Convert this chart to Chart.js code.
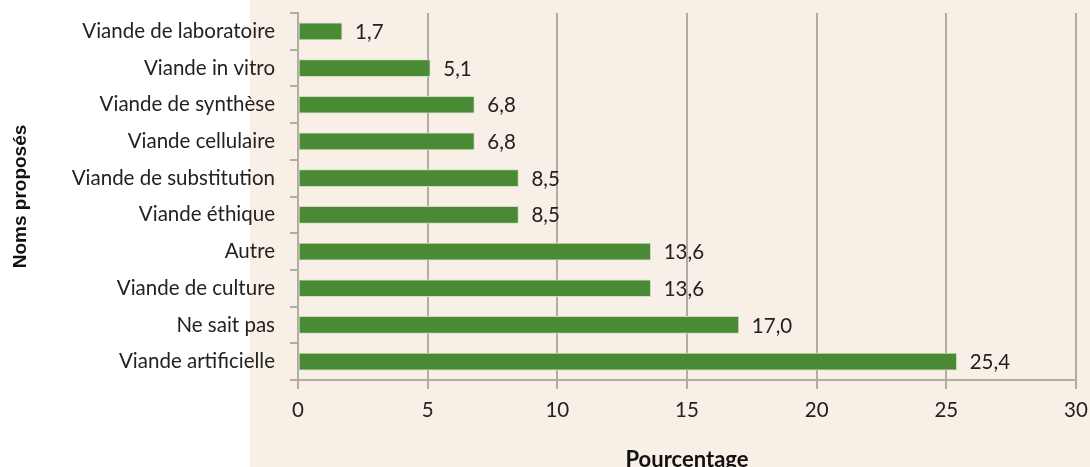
<!DOCTYPE html>
<html>
<head>
<meta charset="utf-8">
<script src="https://cdn.jsdelivr.net/npm/chart.js@4"></script>
<style>
  html, body { margin: 0; padding: 0; background: #fff; }
  #wrap { width: 1090px; height: 467px; }
</style>
</head>
<body>
<div id="wrap"><canvas id="chart" width="1090" height="467"></canvas></div>
<script>
const labels = ['Viande de laboratoire', 'Viande in vitro', 'Viande de synthèse', 'Viande cellulaire',
  'Viande de substitution', 'Viande éthique', 'Autre', 'Viande de culture', 'Ne sait pas', 'Viande artificielle'];
const values = [1.7, 5.1, 6.8, 6.8, 8.5, 8.5, 13.6, 13.6, 17.0, 25.4];
const xTicks = [0, 5, 10, 15, 20, 25, 30];

const FONT = 'Lato, "Open Sans", sans-serif';
const GRID = '#b3aca3';

// beige panel behind the plot, starts left of the axis
const panelBg = {
  id: 'panelBg',
  beforeDraw(chart) {
    const c = chart.ctx;
    c.save();
    c.fillStyle = '#f8f0e7';
    c.fillRect(250, 0, chart.width - 250, chart.height);
    c.restore();
  }
};

// values printed right of each bar, French decimal comma
const valueLabels = {
  id: 'valueLabels',
  afterDatasetsDraw(chart) {
    const c = chart.ctx;
    const meta = chart.getDatasetMeta(0);
    c.save();
    c.font = '20.5px ' + FONT;
    c.fillStyle = '#222';
    c.textBaseline = 'middle';
    meta.data.forEach((bar, i) => {
      c.fillText(values[i].toFixed(1).replace('.', ','), bar.x + 13, bar.y + 1);
    });
    c.restore();
  }
};

new Chart(document.getElementById('chart'), {
  type: 'bar',
  data: {
    labels: labels,
    datasets: [{
      data: values,
      backgroundColor: '#4a8a35',
      borderColor: '#cfdcc0',
      borderWidth: 1,
      borderSkipped: false,
      barThickness: 17
    }]
  },
  options: {
    indexAxis: 'y',
    responsive: false,
    animation: false,
    layout: { padding: { top: 13, right: 14, left: 0, bottom: 0 } },
    plugins: { legend: { display: false }, tooltip: { enabled: false } },
    scales: {
      x: {
        min: 0, max: 30,
        afterBuildTicks: s => { s.ticks = xTicks.map(v => ({ value: v })); },
        grid: { color: GRID, lineWidth: 2, tickLength: 9 },
        border: { color: GRID, width: 2 },
        ticks: { color: '#222', font: { family: FONT, size: 20.5 }, padding: 9 },
        title: {
          display: true, text: 'Pourcentage', color: '#111',
          font: { family: FONT, size: 22, weight: 'bold' },
          padding: { top: 0, bottom: -6 }
        },
        afterFit: s => { s.height = 87; s.paddingLeft = 0; s.paddingRight = 0; }
      },
      y: {
        grid: { drawOnChartArea: false, color: GRID, lineWidth: 2, tickLength: 8 },
        border: { color: GRID, width: 2 },
        ticks: { color: '#222', font: { family: FONT, size: 20.5 }, padding: 15, autoSkip: false },
        title: {
          display: true, text: 'Noms proposés', color: '#111',
          font: { family: '"Liberation Sans", Arial, sans-serif', size: 19, weight: 'bold' },
          padding: { top: 9, bottom: 0 }
        },
        afterFit: s => { s.width = 298; s.paddingTop = 0; s.paddingBottom = 0; }
      }
    }
  },
  plugins: [panelBg, valueLabels]
});
</script>
</body>
</html>
